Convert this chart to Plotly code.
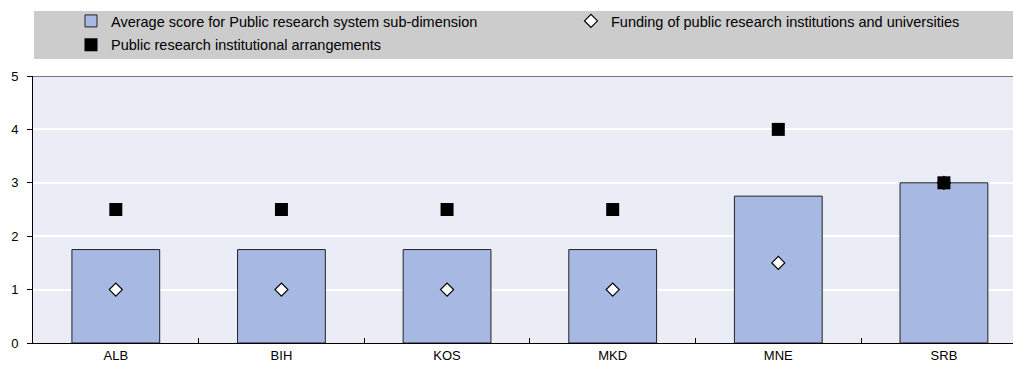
import plotly.graph_objects as go

categories = ["ALB", "BIH", "KOS", "MKD", "MNE", "SRB"]
avg_score = [1.75, 1.75, 1.75, 1.75, 2.75, 3.0]
funding = [1.0, 1.0, 1.0, 1.0, 1.5, 3.0]
institutional = [2.5, 2.5, 2.5, 2.5, 4.0, 3.0]
y_ticks = [0, 1, 2, 3, 4, 5]

W, H = 1013, 372
L, R, T, B = 33, 0, 76, 29
pw = W - L - R

def px(xpix):
    return (xpix - L) / pw

def py(ypix):
    return (H - B - ypix) / (H - T - B)

font = "Liberation Sans, Arial, sans-serif"

fig = go.Figure()
fig.add_trace(go.Bar(
    x=categories, y=avg_score,
    name="Average score for Public research system sub-dimension",
    marker=dict(color="#a7b9e3", line=dict(color="#222222", width=1)),
    width=0.53, legend="legend", legendgroup="a",
))
fig.add_trace(go.Scatter(
    x=categories, y=funding, mode="markers",
    name="Funding of public research institutions and universities",
    marker=dict(symbol="diamond", size=10, color="white",
                line=dict(color="black", width=1.2)),
    legend="legend2", legendgroup="b",
))
fig.add_trace(go.Scatter(
    x=categories, y=institutional, mode="markers",
    name="Public research institutional arrangements",
    marker=dict(symbol="square", size=13, color="black",
                line=dict(color="black", width=0)),
    legend="legend", legendgroup="c",
))

fig.update_layout(
    width=W, height=H,
    margin=dict(l=L, r=R, t=T, b=B, autoexpand=False),
    paper_bgcolor="white",
    plot_bgcolor="#eaedf6",
    font=dict(family=font, size=13, color="#000000"),
    showlegend=True,
    legend=dict(
        x=px(71), y=py(5), xanchor="left", yanchor="top",
        bgcolor="rgba(0,0,0,0)", orientation="v",
        font=dict(family=font, size=14.5, color="#000000"),
        tracegroupgap=2, itemwidth=30,
        traceorder="grouped",
    ),
    legend2=dict(
        x=px(571), y=py(5), xanchor="left", yanchor="top",
        bgcolor="rgba(0,0,0,0)", orientation="v",
        font=dict(family=font, size=14.5, color="#000000"),
        itemwidth=30,
    ),
    xaxis=dict(
        type="category",
        range=[-0.5, 5.417],
        automargin=False,
        showgrid=False,
        showline=True, linecolor="#000000", linewidth=1,
        ticks="inside", tickson="boundaries", ticklen=5,
        tickcolor="#000000", tickwidth=1,
        tickfont=dict(family=font, size=13, color="#000000"),
        zeroline=False,
    ),
    yaxis=dict(
        range=[0, 5],
        tickvals=y_ticks,
        automargin=False,
        showgrid=True, gridcolor="white", gridwidth=1.5,
        showline=True, linecolor="#000000", linewidth=1,
        ticks="outside", ticklen=5, tickcolor="#000000",
        tickfont=dict(family=font, size=13, color="#000000"),
        zeroline=False,
        ticklabelstandoff=6,
    ),
    shapes=[
        dict(type="rect", xref="paper", yref="paper",
             x0=px(34), x1=px(1013), y0=py(59), y1=py(11),
             fillcolor="#cccccc", line=dict(width=0), layer="below"),
        dict(type="line", xref="paper", yref="y",
             x0=0, x1=1, y0=5, y1=5,
             line=dict(color="#000000", width=1)),
    ],
)

fig.write_html(
    "out.html",
    config={"displayModeBar": False},
    post_script="document.body.style.margin='0';document.body.style.overflow='hidden';",
)
